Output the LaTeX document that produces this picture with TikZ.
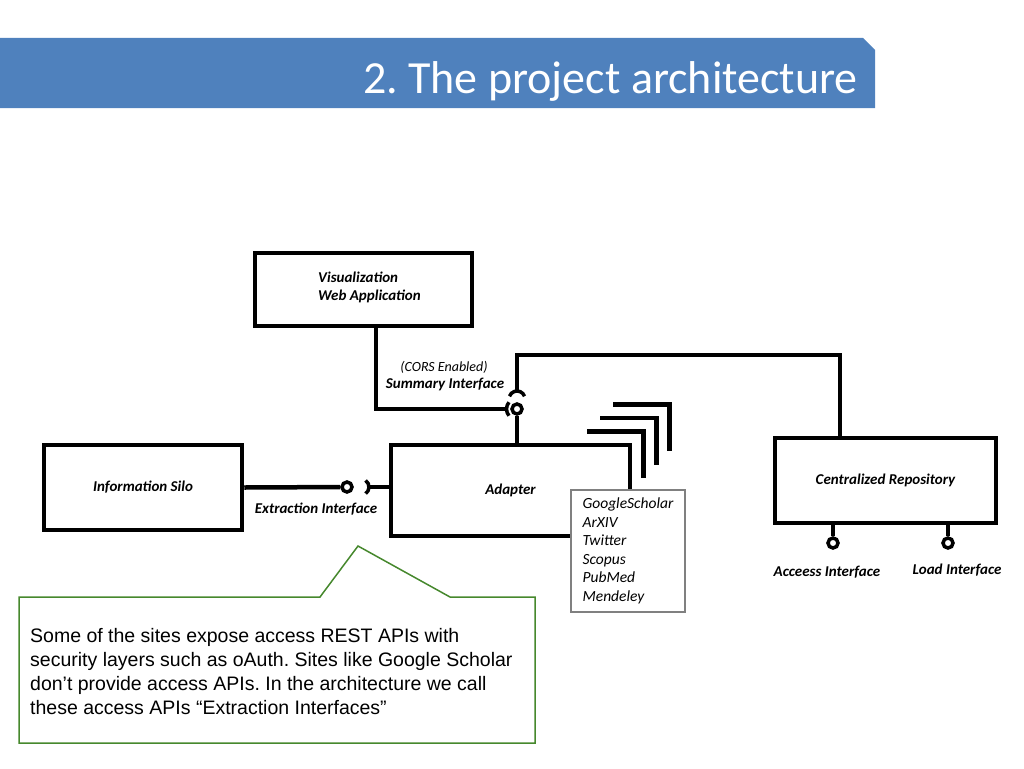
\documentclass[tikz,border=0pt]{standalone}
\usepackage{fontspec}
\setmainfont{Carlito}
\newfontfamily\arialfont{Liberation Sans}
\usepackage{xcolor}
\usepackage{tikz}
\usetikzlibrary{calc}
\frenchspacing
\definecolor{banner}{RGB}{79,129,189}
\definecolor{callgreen}{RGB}{70,136,45}
\definecolor{listgray}{RGB}{128,128,128}
\tikzset{
  comp/.style = {draw=black, line width=4.5pt, inner sep=0pt, align=center,
    font=\fontsize{15}{18}\selectfont\bfseries\itshape},% component box
  srcbox/.style = {draw=listgray, line width=1.2pt, fill=white, inner sep=0pt, align=left,
    minimum width=114pt, minimum height=122pt, font=\fontsize{15.5}{18.5}\selectfont\itshape},% list of sites
  ball/.style = {circle, draw=black, line width=3.5pt, fill=white, minimum size=10pt, inner sep=0pt},% provided interface
  wire/.style = {line width=4.5pt},
  sock/.style = {line width=3.5pt},% required interface
  iflabel/.style = {inner sep=0pt, font=\fontsize{15}{18}\selectfont\bfseries\itshape},
  note/.style = {draw=callgreen, line width=1.5pt}
}

\begin{document}
\begin{tikzpicture}[x=1pt,y=1pt]
\useasboundingbox (0,0) rectangle (1024,-768);
% title banner
\fill[banner] (0,-38) -- (863,-38) -- (875,-50) -- (875,-108) -- (0,-108) -- cycle;
\node[anchor=base east, inner sep=0pt, text=white, font=\fontsize{46}{50}\selectfont] (title) at (858,-93) {2. The project architecture};

% components
\node[comp, minimum width=217pt, minimum height=73pt] (vis) at (363.5,-289.5) {};
\node[iflabel, anchor=west, align=left] (vis_lbl) at (318,-287) {Visualization\\Web Application};
\node[comp, minimum width=198pt, minimum height=85pt] (silo) at (143,-487.5) {Information Silo};
\node[comp, minimum width=239pt, minimum height=91pt] (adapter) at (510.5,-490.5) {Adapter};
\node[comp, minimum width=221pt, minimum height=85pt] (repo) at (885.5,-480.5) {Centralized Repository};

% stacked sources behind the adapter
\foreach \i in {1,2,3}
  \draw[wire] ($(adapter.north east)+(13*\i-58,13.5*\i-2)$) -| ++(56,-47);
\node[srcbox] (src) at (628,-551) {GoogleScholar\\ArXIV\\Twitter\\Scopus\\PubMed\\Mendeley};

% extraction interface
\node[ball] (ext_ball) at (347,-487) {};
\coordinate (ext_sock) at (361,-487);
\draw[wire] (silo.east) -- (ext_ball);
\draw[sock] ([shift={(55:8)}]ext_sock) arc[start angle=55, end angle=-55, radius=8];
\draw[wire] ([xshift=8pt]ext_sock) -- (ext_sock -| adapter.west);
\node[iflabel] (ext_lbl) at (316,-509) {Extraction Interface};

% summary interface
\node[ball] (sum_ball) at (517,-409) {};
\coordinate (sum_usock) at (517,-399);
\draw[wire] (sum_ball) -- (sum_ball |- adapter.north);
\draw[sock] ([shift={(140:10.5)}]sum_ball.center) arc[start angle=140, end angle=220, radius=10.5];
\draw[wire] ([xshift=12.5pt]vis.south) |- ([xshift=-10.5pt]sum_ball.center);
\draw[sock] ([shift={(20:8)}]sum_usock) arc[start angle=20, end angle=160, radius=8];
\draw[wire] ([yshift=8pt]sum_usock) -- (517,-355) -| ([xshift=-45.5pt]repo.north);
\node[iflabel, font=\fontsize{14}{16}\selectfont\itshape] (cors_lbl) at (444,-367) {(CORS Enabled)};
\node[iflabel] (sum_lbl) at (445,-384) {Summary Interface};

% repository interfaces
\node[ball] (acc_ball) at (833,-543) {};
\node[ball] (load_ball) at (948,-543) {};
\draw[wire] (acc_ball) -- (acc_ball |- repo.south);
\draw[wire] (load_ball) -- (load_ball |- repo.south);
\node[iflabel] (acc_lbl) at (827,-572) {Acceess Interface};
\node[iflabel] (load_lbl) at (957,-570) {Load Interface};

% callout
\draw[note] (19,-597) -- (320,-597) -- (358,-546) -- (450,-597) -- (535,-597) -- (535,-743) -- (19,-743) -- cycle;
\node[anchor=north west, align=left, inner sep=0pt, font=\arialfont\fontsize{19.5}{24}\selectfont] (note_txt) at (30,-628)
  {Some of the sites expose access REST APIs with\\
   security layers such as oAuth. Sites like Google Scholar\\
   don’t provide access APIs. In the architecture we call\\
   these access APIs “Extraction Interfaces”};
\end{tikzpicture}
\end{document}
